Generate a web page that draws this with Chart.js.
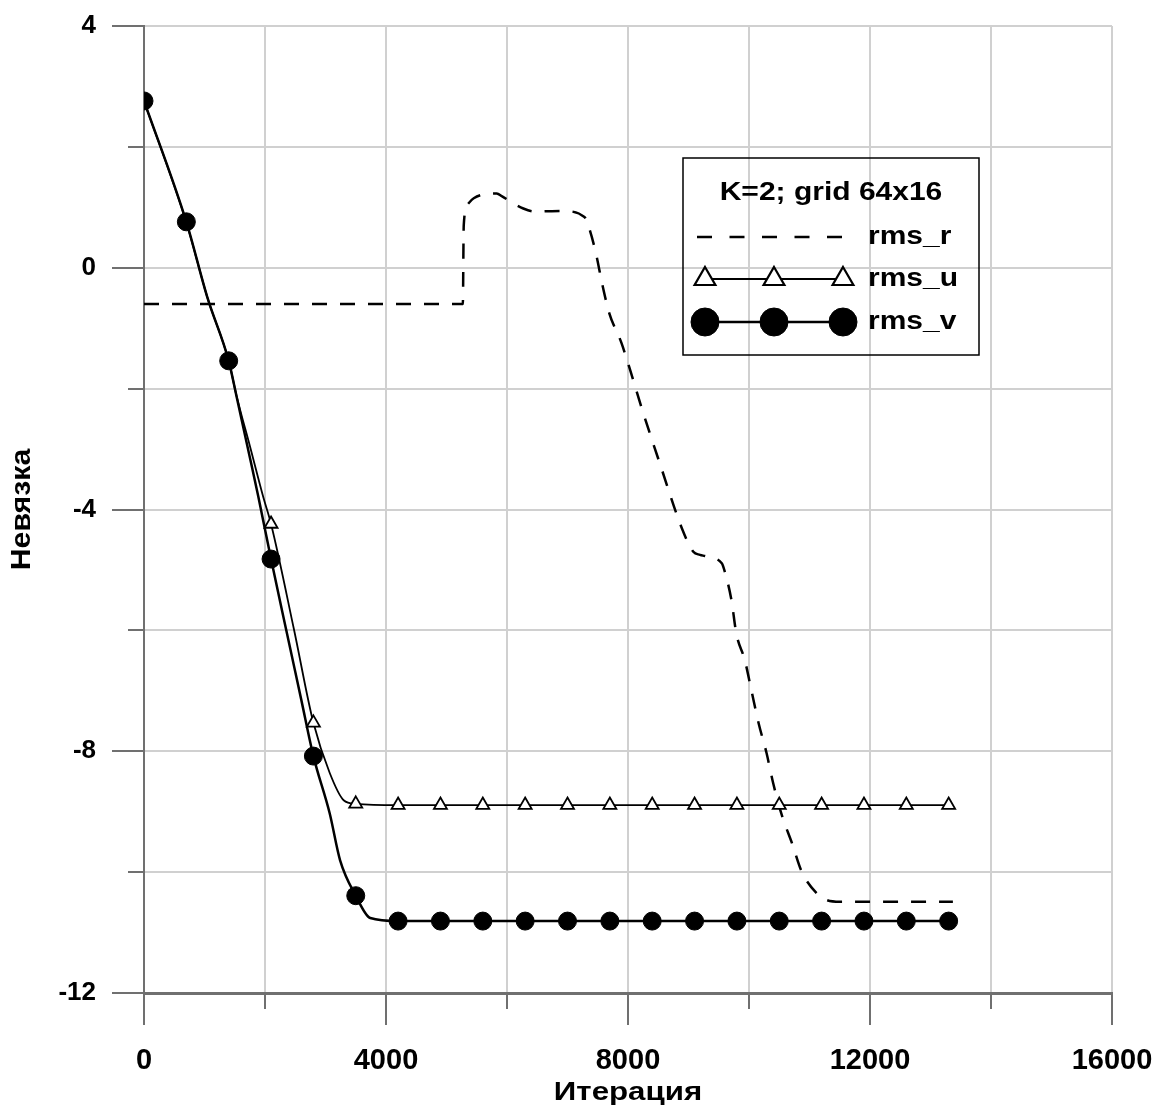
<!DOCTYPE html>
<html lang="ru">
<head>
<meta charset="utf-8">
<title>Невязка</title>
<script src="https://cdn.jsdelivr.net/npm/chart.js@4.4.1/dist/chart.umd.min.js"></script>
<style>
    html, body { margin: 0; padding: 0; background: #ffffff; }
    #wrap { width: 1166px; height: 1111px; }
</style>
</head>
<body>
<div id="wrap"><canvas id="residuals" width="1166" height="1111"></canvas></div>
<script>
// ===== Data =====

const LEGEND_TITLE = 'K=2; grid 64x16';
const X_TITLE = 'Итерация';
const Y_TITLE = 'Невязка';

// rms_r (dashed)
const iterR = [0, 5270, 5285, 5350, 5450, 5830, 5920, 6270, 6460, 6900, 7280, 7350, 7470, 7570,
    7690, 7890, 8050, 8210, 8540, 8890, 9080, 9190, 9270, 9550, 9600, 9710, 9790, 9930, 10050,
    10160, 10290, 10400, 10540, 10710, 10870, 11150, 11280, 11500, 13370];
const rmsR = [-0.60, -0.60, 0.70, 1.05, 1.15, 1.23, 1.18, 0.98, 0.93, 0.94, 0.84, 0.68, 0.24, -0.25,
    -0.75, -1.24, -1.74, -2.27, -3.28, -4.31, -4.70, -4.75, -4.77, -4.89, -5.03, -5.50, -6.05, -6.49, -7.04,
    -7.54, -8.03, -8.53, -9.05, -9.52, -9.99, -10.38, -10.46, -10.49, -10.49];

// rms_u (triangles every 700 iterations)
const iterU = [0, 700, 1050, 1400, 1530, 1750, 1970, 2100, 2480, 2800, 3070, 3300, 3500, 4200,
    4900, 5600, 6300, 7000, 7700, 8400, 9100, 9800, 10500, 11200, 11900, 12600, 13300];
const rmsU = [2.76, 0.75, -0.50, -1.54, -2.12, -2.95, -3.79, -4.24, -5.99, -7.53, -8.36, -8.81, -8.87, -8.89,
    -8.89, -8.89, -8.89, -8.89, -8.89, -8.89, -8.89, -8.89, -8.89, -8.89, -8.89, -8.89, -8.89];

// rms_v (filled circles every 700 iterations)
const iterV = [0, 700, 1050, 1400, 1530, 1750, 1890, 2100, 2350, 2600, 2800, 3070, 3240, 3500, 3740,
    4200, 4900, 5600, 6300, 7000, 7700, 8400, 9100, 9800, 10500, 11200, 11900, 12600, 13300];
const rmsV = [2.76, 0.76, -0.50, -1.54, -2.13, -3.14, -3.79, -4.82, -5.99, -7.15, -8.08, -9.03, -9.80, -10.39, -10.76,
    -10.81, -10.81, -10.81, -10.81, -10.81, -10.81, -10.81, -10.81, -10.81, -10.81, -10.81, -10.81, -10.81, -10.81];

const MARKER_EVERY = 700;

// ===== Styles =====

const FONT = "'Liberation Sans', Arial, sans-serif";
const AXIS_COLOR = '#707070';
const GRID_COLOR = '#d0d0d0';

const toPoints = (xs, ys) => xs.map((x, i) => ({ x, y: ys[i] }));
const markerRadius = r => ctx => (ctx.raw && ctx.raw.x % MARKER_EVERY === 0 ? r : 0);

// bold text widened along its baseline
function wideText(ctx, s, x, y, opts) {
    ctx.save();
    ctx.font = `bold ${opts.size}px ${FONT}`;
    ctx.textAlign = opts.align || 'center';
    ctx.textBaseline = 'middle';
    ctx.fillStyle = '#000';
    ctx.translate(x, y);
    if (opts.rotate) ctx.rotate(opts.rotate);
    ctx.scale(opts.stretch || 1, 1);
    ctx.fillText(s, 0, 0);
    ctx.restore();
}

// tick marks below / left of the axes: long at labelled values, short in between
const axisTicks = {
    id: 'axisTicks',
    afterDraw(chart) {
        const { ctx, chartArea, scales: { x, y } } = chart;
        ctx.save();
        ctx.strokeStyle = AXIS_COLOR;
        ctx.lineWidth = 2;
        ctx.beginPath();
        x.ticks.forEach(t => {
            const px = Math.round(x.getPixelForValue(t.value));
            const len = t.value % 4000 === 0 ? 32 : 16;
            ctx.moveTo(px, chartArea.bottom);
            ctx.lineTo(px, chartArea.bottom + len);
        });
        y.ticks.forEach(t => {
            const py = Math.round(y.getPixelForValue(t.value));
            const len = t.value % 4 === 0 ? 32 : 16;
            ctx.moveTo(chartArea.left, py);
            ctx.lineTo(chartArea.left - len, py);
        });
        ctx.stroke();
        ctx.restore();

        // axis titles
        const midX = (chartArea.left + chartArea.right) / 2;
        const midY = (chartArea.top + chartArea.bottom) / 2;
        wideText(ctx, X_TITLE, midX, 1093, { size: 25, stretch: 1.25 });
        wideText(ctx, Y_TITLE, 23, midY, { size: 27, stretch: 1.12, rotate: -Math.PI / 2 });
    }
};

// framed legend with a title and three-marker line samples
const boxLegend = {
    id: 'boxLegend',
    afterDatasetsDraw(chart) {
        const { ctx } = chart;
        const box = { x: 683, y: 158, w: 296, h: 197 };
        const x0 = 705, x1 = 843, textX = 868;
        const rows = [237, 279, 322];

        ctx.save();
        ctx.strokeStyle = '#000';
        ctx.lineWidth = 1.5;
        ctx.strokeRect(box.x, box.y, box.w, box.h);
        ctx.restore();

        wideText(ctx, LEGEND_TITLE, box.x + box.w / 2, 193, { size: 25, stretch: 1.2 });

        chart.data.datasets.forEach((ds, i) => {
            const yy = rows[i];
            ctx.save();
            ctx.strokeStyle = ds.borderColor;
            ctx.lineWidth = ds.borderWidth;
            ctx.setLineDash(ds.borderDash ? [15, 17.5] : []);
            ctx.beginPath();
            ctx.moveTo(ds.borderDash ? 697 : x0, yy);
            ctx.lineTo(x1, yy);
            ctx.stroke();
            ctx.restore();
            const m = ds.legendMarker;
            if (m) {
                [x0, (x0 + x1) / 2, x1].forEach(mx => {
                    ctx.save();
                    ctx.fillStyle = m.backgroundColor;
                    ctx.strokeStyle = m.borderColor;
                    ctx.lineWidth = m.borderWidth;
                    Chart.helpers.drawPoint(ctx, m, mx, yy);
                    ctx.restore();
                });
            }
            wideText(ctx, ds.label, textX, yy, { size: 25, stretch: 1.2, align: 'left' });
        });
    }
};

// ===== Chart =====

new Chart(document.getElementById('residuals').getContext('2d'), {
    type: 'line',
    data: {
        datasets: [
            {
                label: 'rms_r',
                data: toPoints(iterR, rmsR),
                borderColor: '#000',
                borderWidth: 2.5,
                borderDash: [15, 13],
                pointRadius: 0,
                cubicInterpolationMode: 'monotone',
                order: 3
            },
            {
                label: 'rms_u',
                data: toPoints(iterU, rmsU),
                borderColor: '#000',
                borderWidth: 1.8,
                pointStyle: 'triangle',
                pointRadius: markerRadius(7.5),
                pointBackgroundColor: '#fff',
                pointBorderColor: '#000',
                pointBorderWidth: 1.8,
                cubicInterpolationMode: 'monotone',
                legendMarker: { pointStyle: 'triangle', radius: 12, borderWidth: 2.2, rotation: 0,
                    backgroundColor: '#fff', borderColor: '#000' },
                order: 2
            },
            {
                label: 'rms_v',
                data: toPoints(iterV, rmsV),
                borderColor: '#000',
                borderWidth: 2.5,
                pointStyle: 'circle',
                pointRadius: markerRadius(9),
                pointBackgroundColor: '#000',
                pointBorderColor: '#000',
                pointBorderWidth: 1,
                cubicInterpolationMode: 'monotone',
                legendMarker: { pointStyle: 'circle', radius: 14, borderWidth: 1, rotation: 0,
                    backgroundColor: '#000', borderColor: '#000' },
                order: 1
            }
        ]
    },
    options: {
        responsive: false,
        animation: false,
        events: [],
        layout: { padding: { top: 26, right: 54, left: 0, bottom: 0 } },
        plugins: {
            legend: { display: false },
            tooltip: { enabled: false }
        },
        scales: {
            x: {
                type: 'linear',
                min: 0,
                max: 16000,
                afterFit: s => {
                    s.height = 118;
                    s.paddingLeft = 0;
                    s.paddingRight = 0;
                },
                grid: { color: GRID_COLOR, lineWidth: 2, drawTicks: false },
                border: { color: AXIS_COLOR, width: 3 },
                ticks: {
                    stepSize: 2000,
                    autoSkip: false,
                    maxRotation: 0,
                    padding: 51,
                    color: '#000',
                    font: { family: FONT, size: 29, weight: 'bold' },
                    callback: v => (v % 4000 === 0 ? String(v) : '')
                }
            },
            y: {
                type: 'linear',
                min: -12,
                max: 4,
                afterFit: s => {
                    s.width = 144;
                    s.paddingTop = 0;
                    s.paddingBottom = 0;
                },
                grid: { color: GRID_COLOR, lineWidth: 2, drawTicks: false },
                border: { color: AXIS_COLOR, width: 2 },
                ticks: {
                    stepSize: 2,
                    autoSkip: false,
                    padding: 48,
                    color: '#000',
                    font: { family: FONT, size: 26, weight: 'bold' },
                    callback: v => (v % 4 === 0 ? String(v) : '')
                }
            }
        }
    },
    plugins: [axisTicks, boxLegend]
});
</script>
</body>
</html>
